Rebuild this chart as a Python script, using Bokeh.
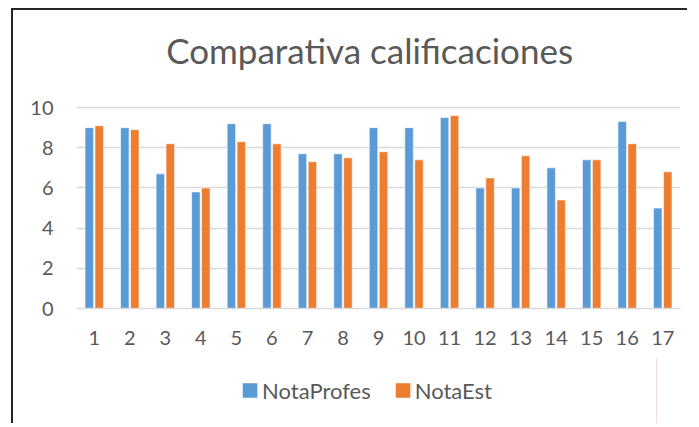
from bokeh.plotting import figure
from bokeh.layouts import column
from bokeh.models import Range1d, Legend, LegendItem, ColumnDataSource, FixedTicker, Label
from bokeh.transform import dodge
from bokeh.embed import file_html
from bokeh.resources import INLINE

categories = list(range(1, 18))
nota_profes = [9.0, 9.0, 6.7, 5.8, 9.2, 9.2, 7.7, 7.7, 9.0, 9.0, 9.5, 6.0, 6.0, 7.0, 7.4, 9.3, 5.0]
nota_est = [9.1, 8.9, 8.2, 6.0, 8.3, 8.2, 7.3, 7.5, 7.8, 7.4, 9.6, 6.5, 7.6, 5.4, 7.4, 8.2, 6.8]
y_ticks = [0, 2, 4, 6, 8, 10]
series_names = ["NotaProfes", "NotaEst"]
series_colors = ["#5B9BD5", "#ED7D31"]
title_text = "Comparativa calificaciones"

FONT = "Lato"
TXT = "#595959"
GRID = "#D9D9D9"
EDGE = "2px solid #262626"

source = ColumnDataSource(dict(cat=categories, profes=nota_profes, est=nota_est))

# frame covers the title area too; the value axis ticks stop at 10
p = figure(
    width=676, height=340,
    x_range=Range1d(0.5, 17.5),
    y_range=Range1d(0, 14.83),
    output_backend="svg", toolbar_location=None,
    min_border_left=63, min_border_right=9, min_border_top=0, min_border_bottom=42,
    background_fill_color="white", border_fill_color="white",
)
p.outline_line_color = None
p.styles = {"border-left": EDGE, "border-top": EDGE}
p.margin = (8, 0, 0, 11)

p.add_layout(Label(x=8.75, y=12.85, text=title_text, text_align="center",
                   text_baseline="alphabetic", text_font=FONT, text_font_size="35px",
                   text_color=TXT))

r1 = p.vbar(x=dodge("cat", -0.14), top="profes", width=0.24, source=source,
            fill_color=series_colors[0], line_color="white", line_width=0.6)
r2 = p.vbar(x=dodge("cat", 0.14), top="est", width=0.24, source=source,
            fill_color=series_colors[1], line_color="white", line_width=0.6)

p.xgrid.grid_line_color = None
p.ygrid.grid_line_color = GRID
p.ygrid.grid_line_width = 1.3
p.yaxis.ticker = y_ticks
p.xaxis.ticker = FixedTicker(ticks=categories)

for ax in (p.xaxis[0], p.yaxis[0]):
    ax.major_tick_line_color = None
    ax.minor_tick_line_color = None
    ax.major_label_text_font = FONT
    ax.major_label_text_font_size = "20px"
    ax.major_label_text_color = TXT
p.yaxis.axis_line_color = None
p.xaxis.axis_line_color = GRID
p.xaxis.axis_line_width = 1.3
p.xaxis.major_label_standoff = 16
p.yaxis.major_label_standoff = 17

# legend strip below the chart
p2 = figure(
    width=652, height=75, x_range=Range1d(0, 1), y_range=Range1d(0, 1),
    output_backend="svg", toolbar_location=None,
    x_axis_type=None, y_axis_type=None,
    min_border_left=0, min_border_right=0, min_border_top=9, min_border_bottom=0,
    background_fill_color="white", border_fill_color="white",
)
p2.grid.visible = False
p2.outline_line_color = None
p2.styles = {"border-left": EDGE}
p2.margin = (0, 0, 0, 11)
# legend-key renderers, kept outside the visible range of this strip
g1 = p2.vbar(x=[5], top=[1], width=0.1, fill_color=series_colors[0], line_color="white", line_width=0.6)
g2 = p2.vbar(x=[5], top=[1], width=0.1, fill_color=series_colors[1], line_color="white", line_width=0.6)

legend = Legend(
    items=[LegendItem(label=series_names[0], renderers=[g1]), LegendItem(label=series_names[1], renderers=[g2])],
    orientation="horizontal", location="center",
    glyph_width=19, glyph_height=19, label_standoff=3, spacing=22,
    padding=0, margin=0,
    border_line_color=None, background_fill_alpha=0,
    label_text_font=FONT, label_text_font_size="22px", label_text_color=TXT,
)
p2.add_layout(legend, "center")

layout = column(p, p2, spacing=0)
open("out.html", "w").write(file_html(layout, INLINE))
